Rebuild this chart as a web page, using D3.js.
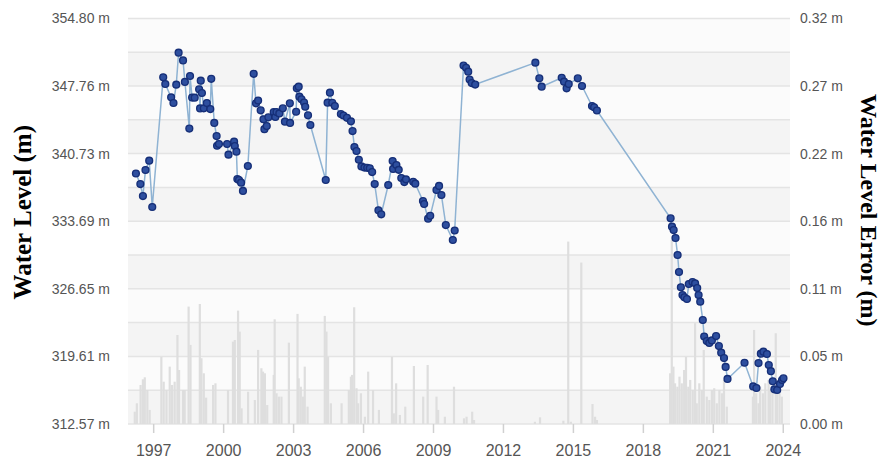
<!DOCTYPE html>
<html>
<head>
<meta charset="utf-8">
<script src="https://cdn.jsdelivr.net/npm/d3@7"></script>
<style>
  html, body { margin: 0; padding: 0; background: #ffffff; }
  svg { display: block; }
</style>
</head>
<body>
<svg id="chart" width="883" height="463"></svg>
<script>
// ---------------- DATA ----------------
const levelDates = [
  1996.26,1996.45,1996.56,1996.67,1996.83,1996.96,1997.43,1997.52,1997.77,1997.87,
  1997.99,1998.09,1998.28,1998.36,1998.55,1998.58,1998.67,1998.78,1998.97,1999.01,
  1999.04,1999.09,1999.17,1999.30,1999.45,1999.49,1999.62,1999.72,1999.74,1999.82,
  2000.17,2000.23,2000.47,2000.50,2000.57,2000.61,2000.68,2000.77,2000.85,2001.06,
  2001.31,2001.41,2001.50,2001.61,2001.73,2001.77,2001.87,2001.94,2002.17,2002.24,
  2002.29,2002.41,2002.56,2002.65,2002.86,2002.87,2003.13,2003.16,2003.24,2003.27,
  2003.36,2003.47,2003.52,2003.64,2003.74,2004.40,2004.48,2004.58,2004.68,2004.79,
  2005.05,2005.16,2005.31,2005.48,2005.55,2005.63,2005.72,2005.82,2005.93,2006.06,
  2006.18,2006.29,2006.39,2006.50,2006.66,2006.78,2007.08,2007.27,2007.29,2007.43,
  2007.53,2007.64,2007.77,2007.84,2008.15,2008.24,2008.57,2008.62,2008.79,2008.88,
  2009.15,2009.26,2009.36,2009.55,2009.85,2009.93,2010.31,2010.42,2010.51,2010.57,
  2010.66,2010.81,2013.39,2013.56,2013.66,2014.52,2014.62,2014.73,2014.82,2015.21,
  2015.39,2015.82,2015.91,2016.03,2019.19,2019.25,2019.32,2019.40,2019.49,2019.55,
  2019.63,2019.70,2019.78,2019.89,2019.97,2020.13,2020.24,2020.33,2020.39,2020.46,
  2020.57,2020.63,2020.74,2020.85,2020.96,2021.14,2021.26,2021.36,2021.48,2021.55,
  2021.63,2022.36,2022.73,2022.87,2022.96,2023.06,2023.17,2023.32,2023.40,2023.49,
  2023.57,2023.64,2023.76,2023.88,2023.97,2024.03
];
const levelValues = [
  338.66,337.56,336.31,339.02,339.99,335.17,348.68,347.98,346.59,346.00,
  347.91,351.24,350.43,348.19,343.34,348.81,346.57,346.55,347.43,345.43,
  348.32,347.04,345.45,346.00,345.37,348.52,343.92,342.56,341.55,341.73,
  341.73,340.62,341.97,341.52,340.93,338.08,337.98,337.70,336.84,339.44,
  349.04,345.97,346.26,345.24,344.31,343.27,343.60,344.51,345.06,344.54,
  345.06,344.91,345.45,344.05,345.97,343.92,345.09,347.53,347.70,346.66,
  346.39,346.05,345.61,344.72,343.71,337.98,346.03,347.07,346.02,345.69,
  344.85,344.70,344.46,344.09,343.08,341.42,341.00,340.09,339.39,339.28,
  339.25,339.20,338.81,337.56,334.83,334.41,337.46,339.96,339.13,339.54,
  339.04,338.19,337.77,338.05,337.80,337.60,335.79,335.48,333.95,334.25,
  336.94,337.36,336.42,333.29,331.73,332.72,349.90,349.67,349.26,348.44,
  348.08,347.92,350.20,348.57,347.70,348.63,348.22,347.53,347.98,348.57,
  347.77,345.69,345.55,345.22,333.99,333.12,332.77,331.94,330.17,328.40,
  326.81,326.00,325.77,325.59,327.15,327.36,327.22,326.73,326.00,325.31,
  323.40,321.68,321.21,321.01,321.27,321.73,320.69,320.00,319.44,318.51,
  317.26,318.95,316.48,316.32,318.92,319.89,320.10,319.86,318.71,318.07,
  317.02,316.18,316.11,316.74,317.15,317.33
];
const errorDates = [
  1996.21,1996.30,1996.46,1996.56,1996.64,1996.75,1996.85,1997.35,1997.45,1997.57,
  1997.71,1997.81,1997.92,1998.04,1998.11,1998.28,1998.35,1998.52,1998.60,1999.00,
  1999.07,1999.17,1999.27,1999.57,1999.67,2000.21,2000.42,2000.50,2000.64,2000.71,
  2000.79,2001.07,2001.36,2001.50,2001.64,2001.71,2001.79,2001.89,2002.17,2002.21,
  2002.29,2002.39,2002.50,2002.82,2003.19,2003.24,2003.33,2003.43,2003.50,2003.62,
  2004.36,2004.43,2004.50,2004.62,2005.08,2005.39,2005.48,2005.53,2005.62,2005.72,
  2005.79,2005.91,2006.08,2006.22,2006.43,2006.68,2007.24,2007.32,2007.42,2007.58,
  2007.81,2008.18,2008.58,2008.77,2009.15,2009.22,2009.51,2009.90,2010.33,2010.44,
  2010.68,2010.76,2013.37,2013.59,2014.59,2014.80,2014.91,2015.36,2015.84,2015.95,
  2016.03,2019.17,2019.24,2019.31,2019.38,2019.48,2019.57,2019.67,2019.77,2019.85,
  2019.95,2020.03,2020.14,2020.24,2020.31,2020.42,2020.53,2020.61,2020.74,2020.85,
  2020.96,2021.06,2021.17,2021.28,2021.39,2021.48,2021.60,2022.72,2022.77,2022.86,
  2022.96,2023.03,2023.15,2023.25,2023.39,2023.46,2023.56,2023.70,2023.75,2023.86,
  2023.96
];
const errorValues = [
  0.0098,0.0165,0.0311,0.0356,0.0372,0.0271,0.0112,0.0536,0.0337,0.0271,
  0.0457,0.0311,0.0337,0.0709,0.0430,0.0271,0.0271,0.0935,0.0630,0.0956,
  0.0524,0.0404,0.0210,0.0311,0.0324,0.0271,0.0656,0.0669,0.0903,0.0736,
  0.0125,0.0257,0.0191,0.0590,0.0444,0.0417,0.0404,0.0151,0.0391,0.0834,
  0.0245,0.0218,0.0218,0.0648,0.0877,0.0364,0.0297,0.0218,0.0457,0.0138,
  0.0861,0.0736,0.0536,0.0165,0.0165,0.0271,0.0377,0.0391,0.0930,0.0285,
  0.0165,0.0245,0.0058,0.0417,0.0271,0.0112,0.0536,0.0085,0.0324,0.0072,
  0.0138,0.0462,0.0218,0.0470,0.0218,0.0112,0.0058,0.0297,0.0045,0.0058,
  0.0098,0.0032,0.0018,0.0053,0.0026,0.1453,0.0018,0.1286,0.0159,0.0058,
  0.0032,0.0404,0.1466,0.0457,0.0324,0.0297,0.0377,0.0324,0.0430,0.0536,
  0.0297,0.0351,0.0271,0.0803,0.0165,0.0324,0.0271,0.0590,0.0218,0.0191,
  0.0271,0.0285,0.0165,0.0271,0.0245,0.0351,0.0138,0.0218,0.0749,0.0245,
  0.0165,0.0297,0.0245,0.0324,0.0351,0.0271,0.0297,0.0723,0.0271,0.0245,
  0.0218
];
const yearTicks = [1997, 2000, 2003, 2006, 2009, 2012, 2015, 2018, 2021, 2024];
const levelTicks = [312.57, 319.61, 326.65, 333.69, 340.73, 347.76, 354.80];
const errorTicks = [0.00, 0.0538, 0.1077, 0.1615, 0.2153, 0.2692, 0.323];
const leftTitle = "Water Level (m)";
const rightTitle = "Water Level Error (m)";

// ---------------- LAYOUT ----------------
const svg = d3.select("#chart");
const plot = { left: 128, right: 790, top: 18.5, bottom: 424 };

const x = d3.scaleLinear().domain([1995.92, 2024.31]).range([plot.left, plot.right]);
const yL = d3.scaleLinear().domain([312.57, 354.80]).range([plot.bottom, plot.top]);
const yR = d3.scaleLinear().domain([0, 0.323]).range([plot.bottom, plot.top]);

// alternating bands + grid lines (half steps)
const gridVals = [];
for (let i = 0; i < levelTicks.length; i++) {
  gridVals.push(levelTicks[i]);
  if (i < levelTicks.length - 1) gridVals.push((levelTicks[i] + levelTicks[i + 1]) / 2);
}
const bands = svg.append("g");
for (let i = 0; i < gridVals.length - 1; i++) {
  bands.append("rect")
    .attr("x", plot.left)
    .attr("width", plot.right - plot.left)
    .attr("y", yL(gridVals[i + 1]))
    .attr("height", yL(gridVals[i]) - yL(gridVals[i + 1]))
    .attr("fill", i % 2 === 0 ? "#f4f4f4" : "#fbfbfb");
}
svg.append("g").selectAll("line").data(gridVals).join("line")
  .attr("x1", plot.left).attr("x2", plot.right)
  .attr("y1", d => yL(d)).attr("y2", d => yL(d))
  .attr("stroke", "#e4e4e4").attr("stroke-width", 1.5);

// error bars
svg.append("g").selectAll("rect").data(errorDates).join("rect")
  .attr("x", d => x(d) - 1.1)
  .attr("width", 2.2)
  .attr("y", (d, i) => yR(errorValues[i]))
  .attr("height", (d, i) => yR(0) - yR(errorValues[i]))
  .attr("fill", "#dedede");

// x axis
const xAxis = svg.append("g")
  .attr("transform", `translate(0,${plot.bottom})`)
  .call(d3.axisBottom(x).tickValues(yearTicks).tickFormat(d3.format("d")).tickSize(9).tickPadding(12));
xAxis.select(".domain").remove();
xAxis.selectAll("line").attr("stroke", "#d0d0d0").attr("stroke-width", 1.5);
xAxis.selectAll("text")
  .attr("font-family", "'Liberation Sans', Arial, sans-serif")
  .attr("font-size", 16).attr("fill", "#555");

// left axis
const yAxisL = svg.append("g")
  .attr("transform", `translate(${plot.left},0)`)
  .call(d3.axisLeft(yL).tickValues(levelTicks).tickFormat(d => d.toFixed(2) + " m").tickSize(0).tickPadding(18));
yAxisL.select(".domain").remove();
yAxisL.selectAll("text")
  .attr("font-family", "'Liberation Sans', Arial, sans-serif")
  .attr("font-size", 14).attr("fill", "#555");

// right axis
const yAxisR = svg.append("g")
  .attr("transform", `translate(${plot.right},0)`)
  .call(d3.axisRight(yR).tickValues(errorTicks).tickFormat(d => d.toFixed(2) + " m").tickSize(0).tickPadding(10));
yAxisR.select(".domain").remove();
yAxisR.selectAll("text")
  .attr("font-family", "'Liberation Sans', Arial, sans-serif")
  .attr("font-size", 14).attr("fill", "#555");

// line
const pts = levelDates.map((d, i) => [d, levelValues[i]]);
svg.append("path")
  .datum(pts)
  .attr("d", d3.line().x(d => x(d[0])).y(d => yL(d[1])))
  .attr("fill", "none")
  .attr("stroke", "#8fb3d3")
  .attr("stroke-width", 1.5);

svg.append("g").selectAll("circle").data(pts).join("circle")
  .attr("cx", d => x(d[0]))
  .attr("cy", d => yL(d[1]))
  .attr("r", 3.4)
  .attr("fill", "#2e4f9f")
  .attr("stroke", "#162f78")
  .attr("stroke-width", 1.4);

// titles
svg.append("text")
  .attr("transform", `translate(31,${(plot.top + plot.bottom) / 2 - 9}) rotate(-90)`)
  .attr("text-anchor", "middle")
  .attr("font-family", "'Liberation Serif', 'Times New Roman', serif")
  .attr("font-weight", "bold")
  .attr("font-size", 25)
  .attr("fill", "#000")
  .text(leftTitle);

svg.append("text")
  .attr("transform", `translate(861,${(plot.top + plot.bottom) / 2 - 11}) rotate(90)`)
  .attr("text-anchor", "middle")
  .attr("font-family", "'Liberation Serif', 'Times New Roman', serif")
  .attr("font-weight", "bold")
  .attr("font-size", 24)
  .attr("fill", "#000")
  .text(rightTitle);
</script>
</body>
</html>
